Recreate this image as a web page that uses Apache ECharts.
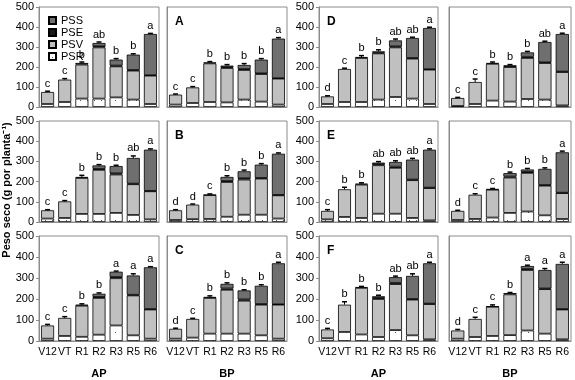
<!DOCTYPE html>
<html><head><meta charset="utf-8">
<script src="https://cdn.jsdelivr.net/npm/echarts@6/dist/echarts.min.js"></script>
<style>html,body{margin:0;padding:0;background:#fff}#c{width:575px;height:380px}</style>
</head><body><div id="c"></div>
<script>
const CATS = ['V12','VT','R1','R2','R3','R5','R6'];
const Y_TICKS = [0,100,200,300,400,500];
// panels row-major: r1: AP, A(BP), D(AP), BP ; r2: AP, B, E, BP ; r3: AP, C, F, BP
const PANEL_TAGS = ['', 'A', 'D', '', '', 'B', 'E', '', '', 'C', 'F', ''];
const GROUPS = ['AP', 'BP', 'AP', 'BP'];
const PSR = [
  [15, 25, 42, 42, 48, 37, 15],
  [12, 20, 25, 23, 37, 27, 12],
  [15, 25, 25, 37, 50, 42, 15],
  [5, 15, 32, 27, 40, 37, 8],
  [17, 20, 40, 40, 45, 35, 13],
  [10, 14, 15, 26, 36, 36, 17],
  [13, 25, 20, 41, 41, 20, 8],
  [10, 15, 22, 45, 52, 33, 15],
  [11, 24, 20, 30, 74, 27, 11],
  [11, 16, 35, 35, 35, 27, 11],
  [13, 43, 31, 19, 52, 27, 8],
  [11, 19, 24, 28, 50, 35, 8]
];
const PSV = [
  [60, 112, 170, 256, 155, 145, 142],
  [50, 78, 193, 172, 148, 138, 130],
  [38, 165, 220, 231, 248, 200, 172],
  [40, 110, 184, 173, 205, 183, 167],
  [41, 82, 178, 218, 190, 152, 139],
  [48, 72, 118, 172, 174, 179, 115],
  [42, 137, 165, 240, 227, 187, 160],
  [45, 120, 138, 175, 191, 147, 128],
  [63, 86, 148, 175, 225, 190, 139],
  [47, 89, 170, 209, 157, 146, 162],
  [42, 130, 222, 181, 219, 170, 168],
  [39, 86, 139, 194, 288, 212, 142]
];
const PSE = [
  [0, 0, 8, 6, 4, 3, 2],
  [0, 0, 5, 4, 5, 3, 2],
  [0, 0, 5, 4, 5, 3, 2],
  [0, 0, 4, 3, 6, 3, 2],
  [0, 0, 5, 5, 6, 3, 2],
  [0, 0, 2, 5, 7, 3, 2],
  [0, 0, 5, 5, 6, 3, 2],
  [0, 0, 3, 5, 5, 3, 2],
  [0, 0, 5, 5, 6, 3, 2],
  [0, 0, 5, 6, 6, 3, 2],
  [0, 0, 4, 5, 6, 3, 2],
  [0, 0, 2, 6, 5, 3, 2]
];
const PSS = [
  [0, 0, 0, 16, 30, 77, 206],
  [0, 0, 0, 8, 20, 69, 198],
  [0, 0, 0, 6, 30, 100, 206],
  [0, 0, 0, 5, 22, 102, 188],
  [0, 0, 0, 17, 36, 127, 204],
  [0, 0, 0, 20, 34, 66, 204],
  [0, 0, 0, 8, 23, 99, 188],
  [0, 0, 0, 17, 12, 80, 200],
  [0, 0, 0, 15, 25, 92, 199],
  [0, 0, 0, 22, 43, 87, 195],
  [0, 0, 0, 8, 27, 110, 192],
  [0, 0, 0, 0, 14, 88, 215]
];
const ERR = [
  [4, 5, 5, 5, 5, 4, 3],
  [3, 4, 4, 5, 7, 5, 5],
  [3, 4, 7, 8, 7, 4, 4],
  [3, 15, 5, 4, 5, 4, 4],
  [3, 4, 8, 4, 4, 10, 4],
  [3, 3, 4, 6, 6, 5, 4],
  [6, 10, 4, 5, 6, 6, 4],
  [3, 5, 3, 5, 5, 5, 6],
  [5, 6, 4, 4, 3, 8, 3],
  [3, 3, 5, 5, 3, 5, 5],
  [5, 14, 3, 5, 5, 10, 5],
  [5, 8, 7, 3, 4, 7, 8]
];
const LETTERS = [
  ['c','c','b','ab','b','b','a'],
  ['c','c','b','b','b','b','a'],
  ['d','c','b','b','ab','ab','a'],
  ['c','c','b','b','b','ab','a'],
  ['c','c','b','b','b','ab','a'],
  ['d','d','c','b','b','b','a'],
  ['c','b','b','ab','ab','ab','a'],
  ['d','c','c','b','b','b','a'],
  ['c','c','b','b','a','a','a'],
  ['d','c','b','b','b','b','a'],
  ['c','b','b','b','ab','ab','a'],
  ['d','c','c','b','a','a','a']
];

// layout
const COL_L = [39, 167, 319, 449];
const COL_W = [120, 120, 119, 122];
const ROW_T = [7, 121, 236];
const ROW_H = [100, 101, 106];
const FONT = '"Liberation Sans", Arial, sans-serif';

// dotted pattern for PSR
const pc = document.createElement('canvas');
pc.width = 7; pc.height = 8;
const g = pc.getContext('2d');
g.fillStyle = '#fff'; g.fillRect(0, 0, 7, 8);
g.fillStyle = '#555'; g.fillRect(3, 4, 1, 1);

const COLORS = {
  PSR: {image: pc, repeat: 'repeat'},
  PSV: '#c0c0c0',
  PSE: '#1a1a1a',
  PSS: '#6f6f6f'
};
const COMP = {PSR, PSV, PSE, PSS};

const grids = [], xAxes = [], yAxes = [], series = [], graphics = [];
for (let p = 0; p < 12; p++) {
  const r = Math.floor(p / 4), c = p % 4;
  grids.push({left: COL_L[c], top: ROW_T[r], width: COL_W[c], height: ROW_H[r],
    show: true, borderColor: '#8c8c8c', borderWidth: 1, containLabel: false});
  const last = r === 2;
  xAxes.push({type: 'category', gridIndex: p, data: CATS,
    axisLine: {lineStyle: {color: '#8c8c8c'}}, axisTick: {show: false},
    axisLabel: {show: last, interval: 0, hideOverlap: false, color: '#000', fontSize: 10.5, fontFamily: FONT, margin: 6},
    name: last ? GROUPS[c] : '', nameLocation: 'middle', nameGap: 27,
    nameTextStyle: {color: '#000', fontSize: 11, fontWeight: 'bold', fontFamily: FONT}
  });
  const showY = c === 0 || c === 2;
  yAxes.push({type: 'value', gridIndex: p, min: Y_TICKS[0], max: Y_TICKS[Y_TICKS.length - 1], interval: 100,
    axisLine: {show: true, lineStyle: {color: '#8c8c8c'}},
    axisTick: {show: showY, length: 3, lineStyle: {color: '#8c8c8c'}},
    axisLabel: {show: showY, color: '#000', fontSize: 11, fontFamily: FONT, margin: 5},
    splitLine: {show: false}
  });
  ['PSR', 'PSV', 'PSE', 'PSS'].forEach(name => {
    series.push({type: 'bar', name, xAxisIndex: p, yAxisIndex: p, stack: 'p' + p,
      barCategoryGap: '24%',
      itemStyle: {color: COLORS[name], borderColor: '#000', borderWidth: 0.8},
      emphasis: {disabled: true},
      data: COMP[name][p].map(v => v === 0 ? null : v)
    });
  });
  const totals = CATS.map((_, i) => PSR[p][i] + PSV[p][i] + PSE[p][i] + PSS[p][i]);
  series.push({type: 'custom', xAxisIndex: p, yAxisIndex: p, z: 10, silent: true,
    data: CATS.map((_, i) => [i, totals[i], ERR[p][i]]),
    renderItem: (params, api) => {
      const i = api.value(0), t = api.value(1), e = api.value(2);
      const b = api.coord([i, t]), tp = api.coord([i, t + e]);
      const hw = 2.5;
      return {type: 'group', children: [
        {type: 'line', shape: {x1: b[0], y1: b[1], x2: tp[0], y2: tp[1]}, style: {stroke: '#000', lineWidth: 1}},
        {type: 'line', shape: {x1: tp[0] - hw, y1: tp[1], x2: tp[0] + hw, y2: tp[1]}, style: {stroke: '#000', lineWidth: 1.5}},
        {type: 'text', x: tp[0], y: tp[1] - 2, style: {text: LETTERS[p][params.dataIndex], fill: '#000',
          font: '11px ' + FONT, align: 'center', verticalAlign: 'bottom'}}
      ]};
    }
  });
  if (PANEL_TAGS[p]) {
    graphics.push({type: 'text', left: COL_L[c] + 8, top: ROW_T[r] + 9,
      style: {text: PANEL_TAGS[p], fill: '#000', font: 'bold 12px ' + FONT}});
  }
}
graphics.push({type: 'text', x: 7, y: 190, rotation: Math.PI / 2,
  style: {text: 'Peso seco (g por planta⁻¹)', fill: '#000', font: 'bold 11px ' + FONT,
    align: 'center', verticalAlign: 'middle'}});

const chart = echarts.init(document.getElementById('c'), null, {renderer: 'canvas'});
chart.setOption({
  animation: false,
  grid: grids, xAxis: xAxes, yAxis: yAxes, series,
  graphic: graphics,
  legend: {data: ['PSS', 'PSE', 'PSV', 'PSR'], orient: 'vertical', left: 43, top: 10,
    itemWidth: 7, itemHeight: 7, itemGap: 1, icon: 'rect',
    textStyle: {fontSize: 11, fontFamily: FONT, color: '#000', lineHeight: 11}}
});
</script></body></html>
